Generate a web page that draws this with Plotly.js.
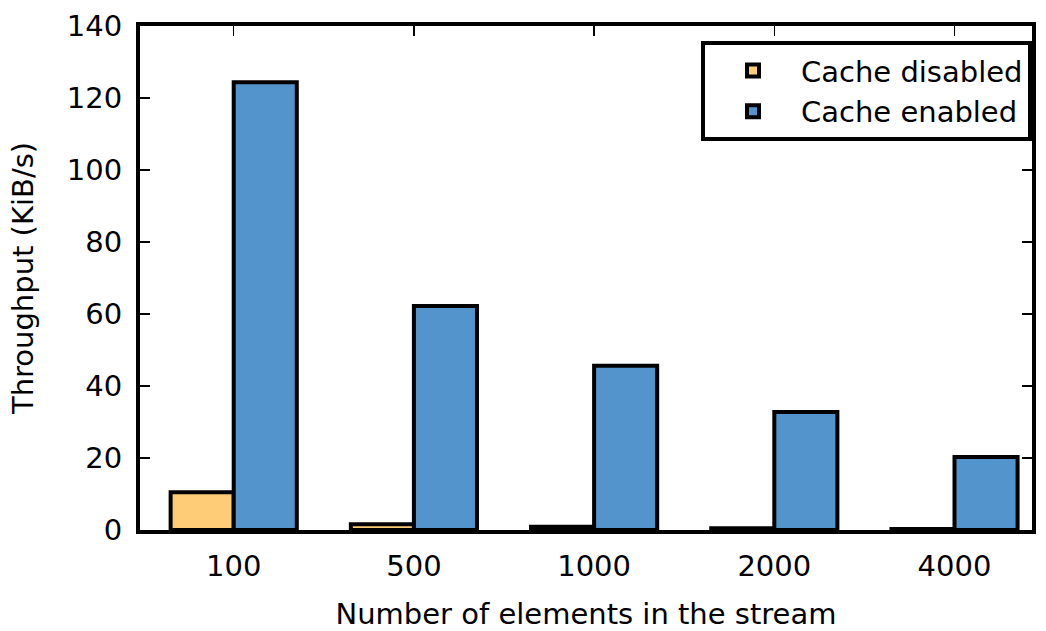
<!DOCTYPE html>
<html>
<head>
<meta charset="utf-8">
<script src="https://cdn.plot.ly/plotly-3.0.1.min.js"></script>
<style>html,body{margin:0;padding:0;background:#fff;}#chart{width:1046px;height:631px;}</style>
</head>
<body>
<div id="chart"></div>
<script>
var categories = ["100", "500", "1000", "2000", "4000"];
var cacheDisabled = [10.5, 1.6, 0.9, 0.5, 0.3];
var cacheEnabled = [124.4, 62.2, 45.6, 32.8, 20.3];
var yTicks = [0, 20, 40, 60, 80, 100, 120, 140];

var xs = categories.map(function(c, i){ return i; });
var font = "DejaVu Sans, sans-serif";

var traces = [
  {type: "bar", name: "Cache disabled", x: xs, y: cacheDisabled,
   marker: {color: "#fecc76", line: {color: "#000", width: 4}}},
  {type: "bar", name: "Cache enabled", x: xs, y: cacheEnabled,
   marker: {color: "#5294cb", line: {color: "#000", width: 4}}}
];

var layout = {
  width: 1046, height: 631,
  margin: {l: 140, r: 14, t: 26, b: 101},
  paper_bgcolor: "#fff", plot_bgcolor: "#fff",
  barmode: "group", bargap: 0.3, bargroupgap: 0,
  font: {family: font, size: 30, color: "#000"},
  xaxis: {
    range: [-0.52, 4.43], tickmode: "array", tickvals: xs, ticktext: categories,
    showgrid: false, zeroline: false, showline: true, linewidth: 4, linecolor: "#000",
    mirror: "ticks", ticks: "inside", ticklen: 10, tickwidth: 1.5, tickcolor: "#000",
    ticklabelstandoff: 7,
    tickfont: {family: font, size: 29},
    title: {text: "Number of elements in the stream", font: {family: font, size: 29}, standoff: 30}
  },
  yaxis: {
    range: [0, 140], tickmode: "array", tickvals: yTicks,
    showgrid: false, zeroline: false, showline: true, linewidth: 4, linecolor: "#000",
    mirror: "ticks", ticks: "inside", ticklen: 10, tickwidth: 1.5, tickcolor: "#000",
    ticklabelstandoff: 8,
    tickfont: {family: font, size: 29},
    title: {text: "Throughput (KiB/s)", font: {family: font, size: 29}, standoff: 26}
  },
  legend: {
    x: 1, xanchor: "right", y: 0.97, yanchor: "top",
    bordercolor: "#000", borderwidth: 4, bgcolor: "#fff",
    font: {family: font, size: 29}, itemwidth: 86, tracegroupgap: 0
  },
  showlegend: true
};

Plotly.newPlot("chart", traces, layout, {displayModeBar: false, staticPlot: true});
</script>
</body>
</html>
